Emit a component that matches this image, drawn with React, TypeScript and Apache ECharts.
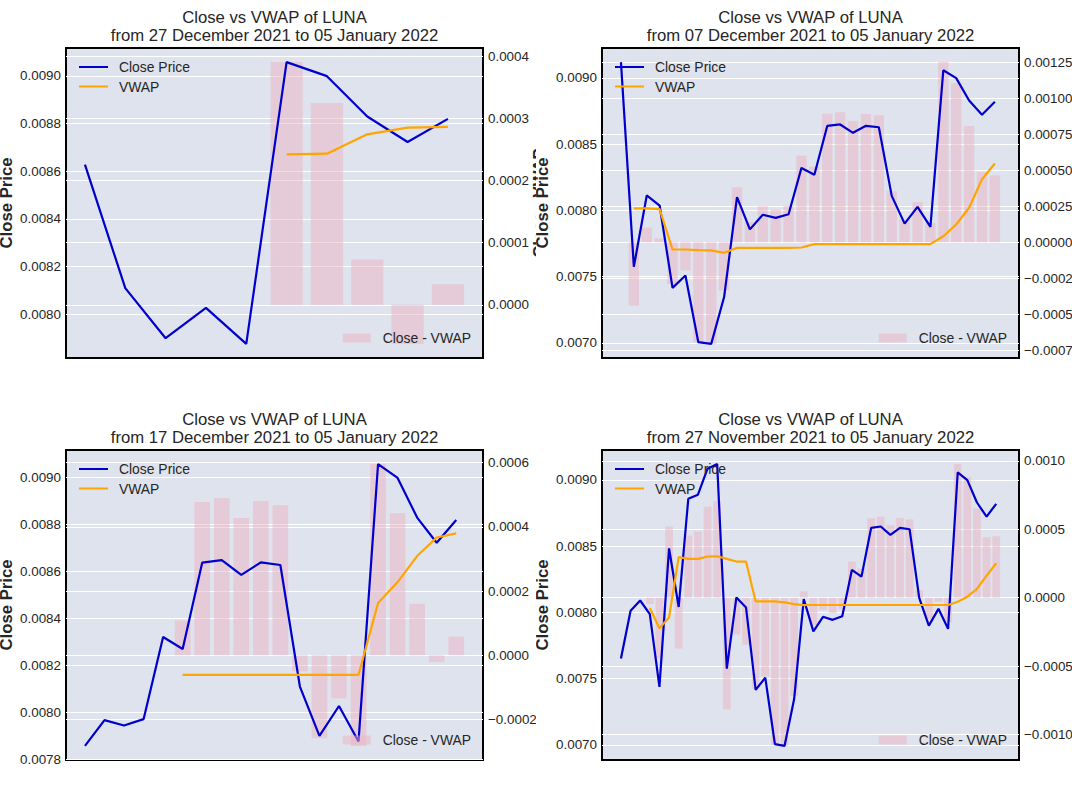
import React, { useEffect, useRef } from "react";
import * as echarts from "echarts";

const FONT = '"Liberation Sans", Arial, Helvetica, sans-serif';
const TEXT = "#262626";
const PLOT_BG = "#DFE3ED";
const BLUE = "#0000CD";
const ORANGE = "#FFA500";
const PINK = "rgba(235,180,195,0.5)";

// Daily LUNA close, 27 Nov 2021 -> 05 Jan 2022 (40 days)
const closeAll = [
  0.007652, 0.008012, 0.00809, 0.007987, 0.007438, 0.008483, 0.008041, 0.008858, 0.008889, 0.009085,
  0.00912, 0.007575, 0.008113, 0.008037, 0.007415, 0.007508, 0.007005, 0.006992, 0.007346, 0.0081,
  0.007857, 0.007967, 0.007944, 0.007971, 0.008321, 0.00827, 0.008638, 0.008649, 0.008586, 0.008639,
  0.008628, 0.00811, 0.0079, 0.008027, 0.007876, 0.009058, 0.008999, 0.00883, 0.008723, 0.00882,
];

// VWAP and Close - VWAP, per window
const vwap27Dec = [null, null, null, null, null, 0.008671, 0.008674, 0.008755, 0.008783, 0.008786];
const diff27Dec = [null, null, null, null, null, 0.000391, 0.000325, 0.000073, -0.000063, 0.000033];

const vwap07Dec = [
  null, 0.008015, 0.008015, 0.00801, 0.007705, 0.007705, 0.0077, 0.007698, 0.00768, 0.007717,
  0.007717, 0.007717, 0.007717, 0.007717, 0.00772, 0.007745, 0.007745, 0.007745, 0.007745, 0.007745,
  0.007745, 0.007745, 0.007745, 0.007745, 0.007745, 0.007805, 0.007894, 0.00802, 0.008235, 0.008354,
];
const diff07Dec = [
  null, -0.00044, 0.000102, 0.000027, -0.00029, -0.000195, -0.000695, -0.000706, -0.000334, 0.000383,
  0.00014, 0.00025, 0.000227, 0.000254, 0.000601, 0.000525, 0.000893, 0.000904, 0.000842, 0.000892,
  0.000882, 0.000355, 0.000157, 0.000278, 0.000133, 0.001252, 0.001105, 0.000808, 0.000488, 0.000465,
];

const vwap17Dec = [
  null, null, null, null, null, 0.00816, 0.00816, 0.00816, 0.00816, 0.00816,
  0.00816, 0.00816, 0.00816, 0.00816, 0.00816, 0.008466, 0.008555, 0.008666, 0.008745, 0.008763,
];
const diff17Dec = [
  null, null, null, null, null, 0.000108, 0.000477, 0.000489, 0.000427, 0.00048,
  0.000467, -0.00005, -0.000258, -0.000134, -0.000282, 0.000595, 0.000442, 0.00016, -0.000021, 0.000058,
];

const vwap27Nov = [
  null, null, null, 0.008033, 0.007881, 0.007962, 0.008417, 0.008404, 0.008404, 0.008422,
  0.008424, 0.008404, 0.008384, 0.008384, 0.008083, 0.008083, 0.008083, 0.008076, 0.008063, 0.008055,
  0.008056, 0.008056, 0.008056, 0.008056, 0.008056, 0.008056, 0.008056, 0.008056, 0.008056, 0.008056,
  0.008056, 0.008056, 0.008056, 0.008056, 0.008056, 0.008081, 0.008119, 0.008177, 0.008278, 0.008371,
];
const diff27Nov = [
  null, null, null, -0.000046, -0.000442, 0.00052, -0.000372, 0.000454, 0.000486, 0.000665,
  0.000705, -0.000815, -0.000268, -0.000344, -0.000668, -0.000575, -0.001078, -0.001084, -0.000717, 0.000047,
  -0.000199, -0.000089, -0.000112, -0.000085, 0.000264, 0.000214, 0.000581, 0.000592, 0.00053, 0.000583,
  0.000572, 0.000054, -0.000156, -0.000029, -0.00018, 0.000977, 0.00088, 0.000653, 0.000443, 0.000449,
];

// Tick values
const leftTicks27Dec = [0.008, 0.0082, 0.0084, 0.0086, 0.0088, 0.009];
const rightTicks27Dec = [0, 0.0001, 0.0002, 0.0003, 0.0004];
const leftTicks07Dec = [0.007, 0.0075, 0.008, 0.0085, 0.009];
const rightTicks07Dec = [-0.00075, -0.0005, -0.00025, 0, 0.00025, 0.0005, 0.00075, 0.001, 0.00125];
const leftTicks17Dec = [0.0078, 0.008, 0.0082, 0.0084, 0.0086, 0.0088, 0.009];
const rightTicks17Dec = [-0.0002, 0, 0.0002, 0.0004, 0.0006];
const leftTicks27Nov = [0.007, 0.0075, 0.008, 0.0085, 0.009];
const rightTicks27Nov = [-0.001, -0.0005, 0, 0.0005, 0.001];

const TITLE = "Close vs VWAP of LUNA";

type Spec = {
  subtitle: string;
  vwap: (number | null)[];
  diff: (number | null)[];
  leftTicks: number[];
  rightTicks: number[];
  rightDigits: number;
  rightNameGap: number;
  col: number;
  row: number;
};

const panels: Spec[] = [
  {
    subtitle: "from 27 December 2021 to 05 January 2022",
    vwap: vwap27Dec, diff: diff27Dec,
    leftTicks: leftTicks27Dec, rightTicks: rightTicks27Dec, rightDigits: 4, rightNameGap: 48,
    col: 0, row: 0,
  },
  {
    subtitle: "from 07 December 2021 to 05 January 2022",
    vwap: vwap07Dec, diff: diff07Dec,
    leftTicks: leftTicks07Dec, rightTicks: rightTicks07Dec, rightDigits: 5, rightNameGap: 62,
    col: 1, row: 0,
  },
  {
    subtitle: "from 17 December 2021 to 05 January 2022",
    vwap: vwap17Dec, diff: diff17Dec,
    leftTicks: leftTicks17Dec, rightTicks: rightTicks17Dec, rightDigits: 4, rightNameGap: 62,
    col: 0, row: 1,
  },
  {
    subtitle: "from 27 November 2021 to 05 January 2022",
    vwap: vwap27Nov, diff: diff27Nov,
    leftTicks: leftTicks27Nov, rightTicks: rightTicks27Nov, rightDigits: 4, rightNameGap: 62,
    col: 1, row: 1,
  },
];

const W = 536;
const H = 402;
const GRID = { left: 66, top: 48, width: 417, height: 310 };

function padded(vals: (number | null)[]): [number, number] {
  const v = vals.filter((x): x is number => x != null);
  const lo = Math.min(...v);
  const hi = Math.max(...v);
  const m = (hi - lo) * 0.05;
  return [lo - m, hi + m];
}

function fmt(d: number) {
  return (v: number) => {
    const s = Math.abs(v).toFixed(d);
    return (v < -1e-12 ? "\u2212" : "") + s;
  };
}

function buildOption(p: Spec) {
  const n = p.vwap.length;
  const close = closeAll.slice(closeAll.length - n);
  const closeData = close.map((v, i) => [i, v]);
  const vwapData = p.vwap
    .map((v, i) => (v == null ? null : [i, v]))
    .filter((d) => d != null);
  const diffData = p.diff
    .map((v, i) => (v == null ? null : [i, v]))
    .filter((d) => d != null);
  const firstBar = p.diff.findIndex((v) => v != null);
  const xLo0 = Math.min(0, firstBar - 0.4);
  const xHi0 = n - 1 + 0.4;
  const xm = (xHi0 - xLo0) * 0.05;
  const xMin = xLo0 - xm;
  const xMax = xHi0 + xm;
  const barWidth = (GRID.width / (xMax - xMin)) * 0.8;
  const [lMin, lMax] = padded([...close, ...p.vwap]);
  const [rMin, rMax] = padded([0, ...p.diff]);

  const labelStyle = { color: TEXT, fontSize: 13.4, fontFamily: FONT, margin: 5 };
  const nameStyle = { color: TEXT, fontSize: 16.7, fontWeight: "bold", fontFamily: FONT };
  const legendText = { color: TEXT, fontSize: 13.9, fontFamily: FONT };

  return {
    animation: false,
    backgroundColor: "#ffffff",
    textStyle: { fontFamily: FONT },
    grid: {
      ...GRID,
      show: true,
      backgroundColor: PLOT_BG,
      borderColor: "#000000",
      borderWidth: 2,
      containLabel: false,
      outerBoundsMode: "none",
    },
    graphic: [
      {
        type: "text",
        x: GRID.left + GRID.width / 2,
        y: 17,
        style: { text: TITLE, fontSize: 16.7, fontFamily: FONT, fill: TEXT, align: "center", verticalAlign: "middle" },
      },
      {
        type: "text",
        x: GRID.left + GRID.width / 2,
        y: 35.5,
        style: { text: p.subtitle, fontSize: 16.7, fontFamily: FONT, fill: TEXT, align: "center", verticalAlign: "middle" },
      },
    ],
    legend: [
      {
        orient: "vertical",
        left: 79,
        top: 60,
        padding: 0,
        icon: "rect",
        itemWidth: 29,
        itemHeight: 2,
        itemGap: 5.5,
        selectedMode: false,
        data: ["Close Price", "VWAP"],
        textStyle: { ...legendText, padding: [0, 0, 0, 6] },
      },
      {
        orient: "vertical",
        right: 65,
        bottom: 57,
        padding: 0,
        icon: "rect",
        itemWidth: 28,
        itemHeight: 9,
        selectedMode: false,
        data: ["Close - VWAP"],
        textStyle: { ...legendText, padding: [0, 0, 0, 7] },
      },
    ],
    xAxis: {
      type: "value",
      min: xMin,
      max: xMax,
      show: false,
      axisLine: { show: false },
      axisTick: { show: false },
      axisLabel: { show: false },
      splitLine: { show: false },
    },
    yAxis: [
      {
        type: "value",
        position: "left",
        min: lMin,
        max: lMax,
        name: "Close Price",
        nameLocation: "middle",
        nameGap: 51,
        nameMoveOverlap: false,
        nameTextStyle: nameStyle,
        axisLine: { show: false },
        axisTick: { show: false, customValues: p.leftTicks },
        axisLabel: { ...labelStyle, customValues: p.leftTicks, formatter: fmt(4) },
        splitLine: { show: true, lineStyle: { color: "#ffffff", width: 1 } },
      },
      {
        type: "value",
        position: "right",
        min: rMin,
        max: rMax,
        name: "Close - VWAP",
        nameLocation: "middle",
        nameGap: p.rightNameGap,
        nameMoveOverlap: false,
        nameTextStyle: nameStyle,
        axisLine: { show: false },
        axisTick: { show: false, customValues: p.rightTicks },
        axisLabel: { ...labelStyle, customValues: p.rightTicks, formatter: fmt(p.rightDigits) },
        splitLine: { show: true, lineStyle: { color: "#ffffff", width: 1 } },
      },
    ],
    series: [
      {
        type: "bar",
        name: "Close - VWAP",
        yAxisIndex: 1,
        data: diffData,
        barWidth,
        itemStyle: { color: PINK },
        z: 1,
      },
      {
        type: "line",
        name: "Close Price",
        yAxisIndex: 0,
        data: closeData,
        symbol: "none",
        lineStyle: { color: BLUE, width: 2.2 },
        itemStyle: { color: BLUE },
        z: 3,
      },
      {
        type: "line",
        name: "VWAP",
        yAxisIndex: 0,
        data: vwapData,
        symbol: "none",
        lineStyle: { color: ORANGE, width: 2.2 },
        itemStyle: { color: ORANGE },
        z: 4,
      },
    ],
  };
}

function Panel({ spec }: { spec: Spec }) {
  const ref = useRef<HTMLDivElement>(null);
  useEffect(() => {
    if (!ref.current) return;
    const chart = echarts.init(ref.current, undefined, { renderer: "svg", width: W, height: H });
    chart.setOption(buildOption(spec) as any);
    return () => chart.dispose();
  }, [spec]);
  return (
    <div
      ref={ref}
      style={{
        position: "absolute",
        left: spec.col * W,
        top: spec.row * H,
        width: W,
        height: H,
        overflow: "hidden",
      }}
    />
  );
}

export default function App() {
  useEffect(() => {
    document.body.style.margin = "0";
  }, []);
  return (
    <div
      style={{
        position: "fixed",
        left: 0,
        top: 0,
        width: W * 2,
        height: H * 2,
        background: "#ffffff",
        overflow: "hidden",
      }}
    >
      {panels.map((p, i) => (
        <Panel key={i} spec={p} />
      ))}
    </div>
  );
}
